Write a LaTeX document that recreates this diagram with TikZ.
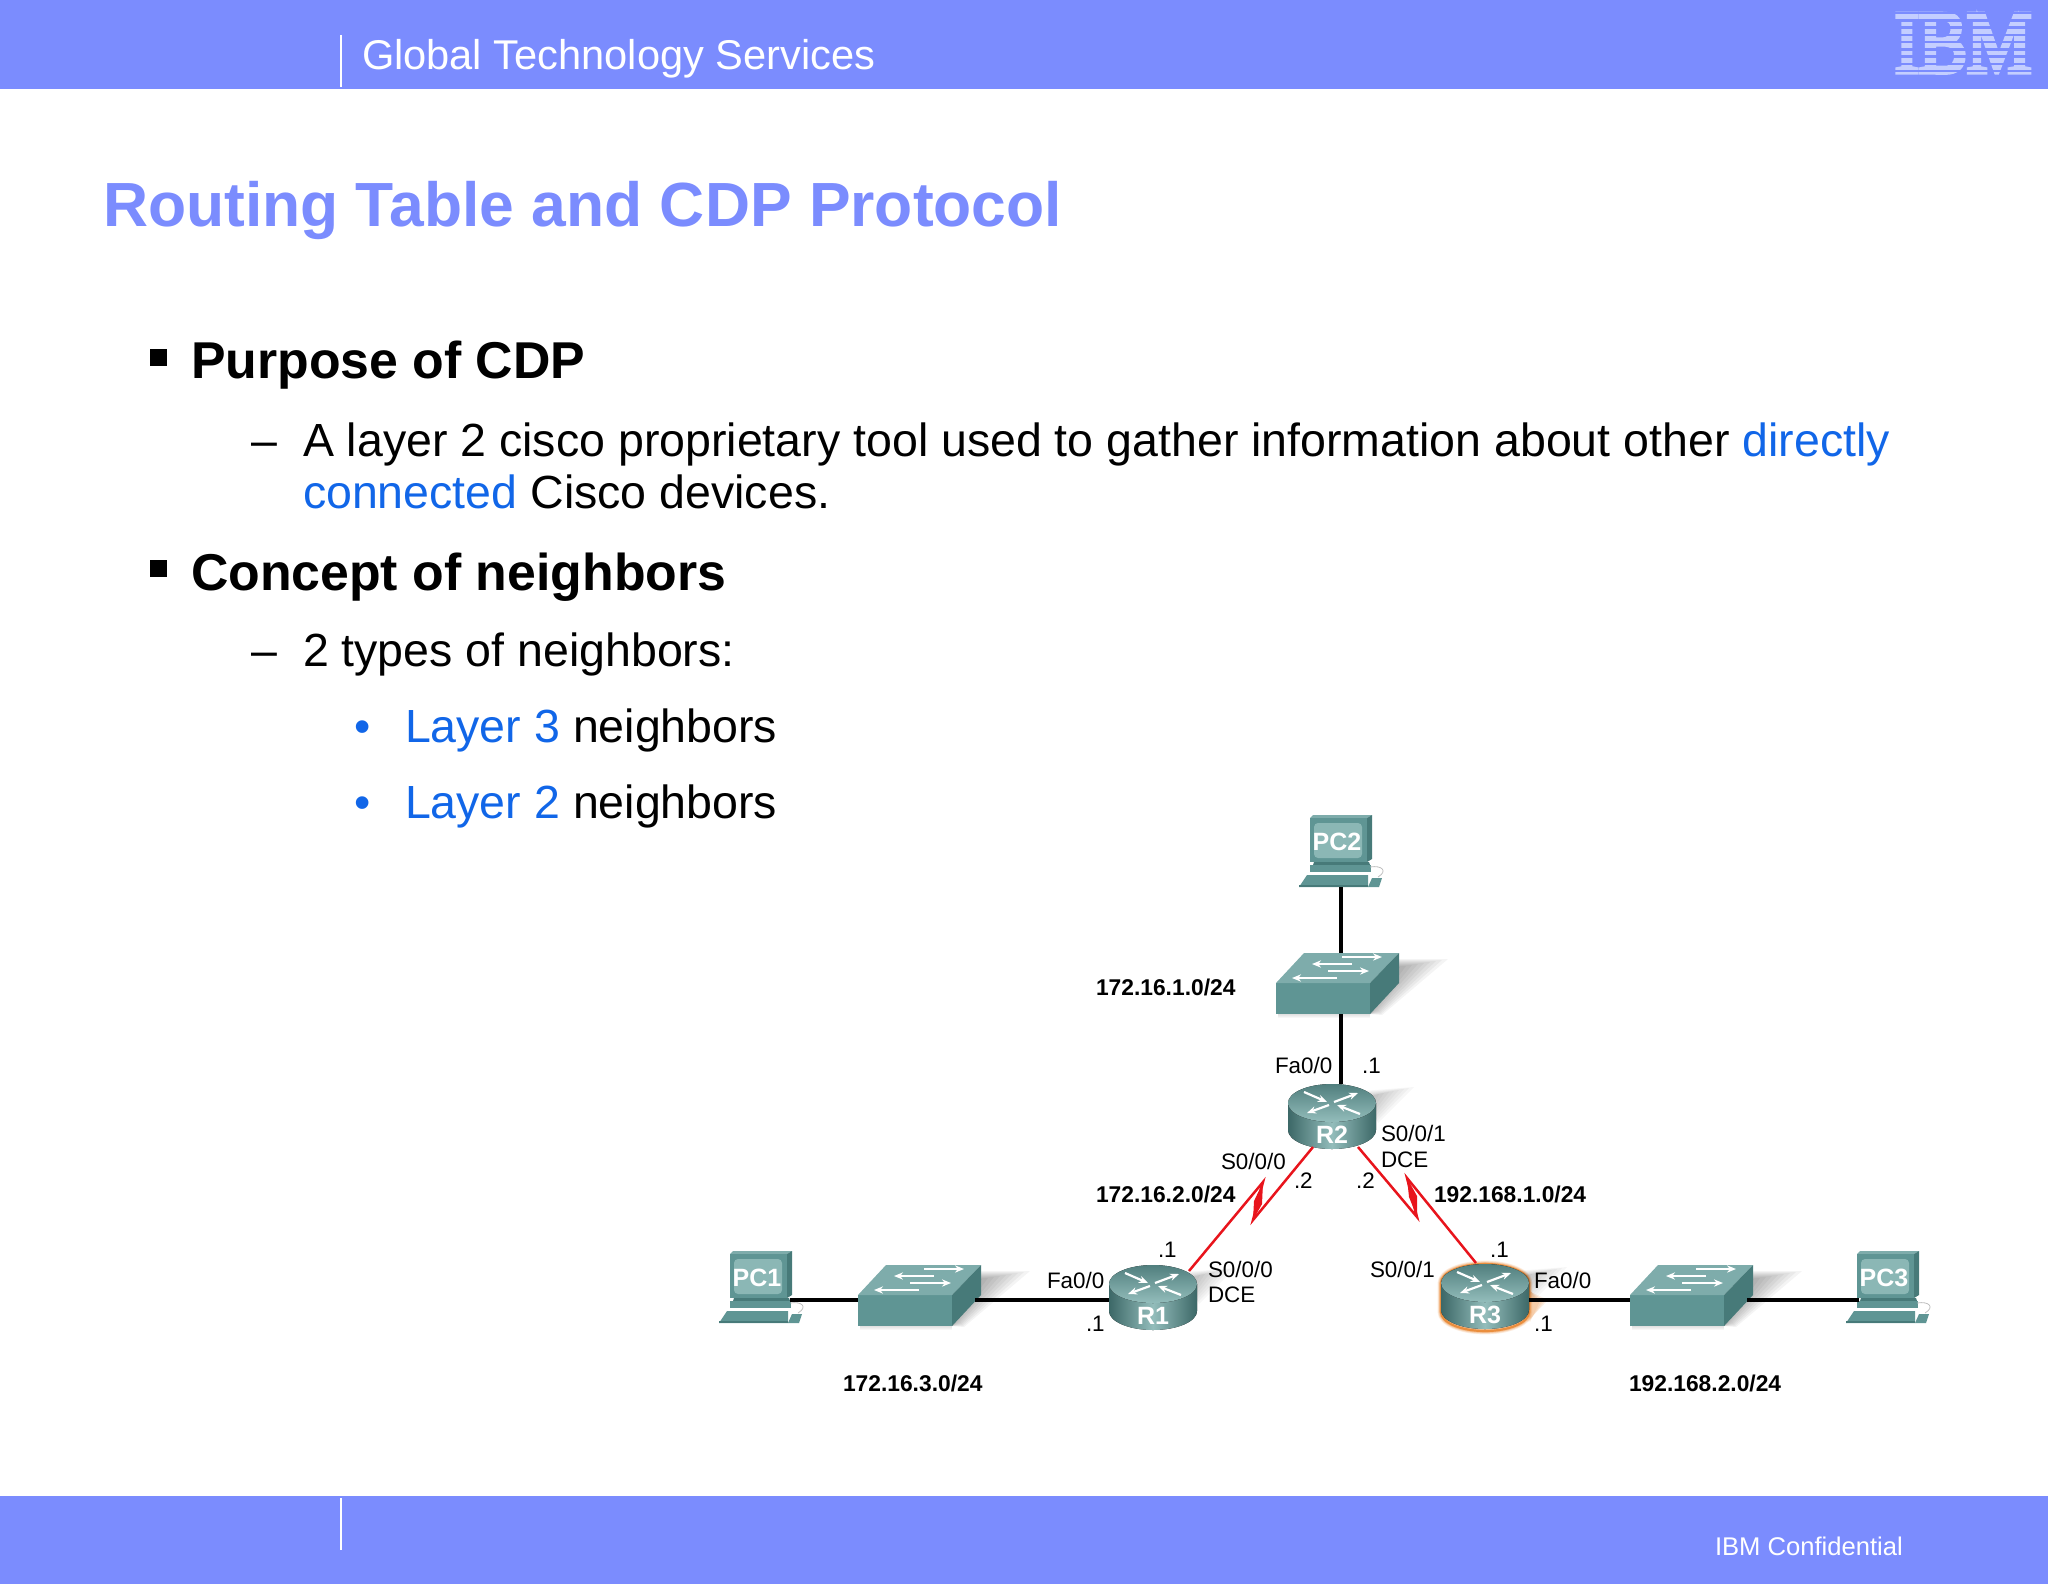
\documentclass[tikz,border=0pt]{standalone}
\usepackage{fontspec}
\usepackage{graphicx}
\setmainfont{Liberation Sans}
\newfontfamily\logofont[FakeBold=6]{Liberation Serif}
\usetikzlibrary{arrows.meta}
\definecolor{barblue}{HTML}{7B8CFE}
\definecolor{linkblue}{HTML}{1166E8}
\definecolor{logoc}{HTML}{C4CEFF}
\definecolor{tealF}{HTML}{5F9594}
\definecolor{tealT}{HTML}{7EACAB}
\definecolor{tealS}{HTML}{477A79}
\definecolor{tealL}{HTML}{93BDBB}
\definecolor{serialred}{HTML}{E8141C}
\definecolor{glowc}{HTML}{E8822A}
\newcommand{\fs}[1]{\fontsize{#1}{#1}\selectfont}
\tikzset{
  txt/.style={anchor=base west,inner sep=0pt,outer sep=0pt},
  lab/.style={txt,font=\fs{11.2}},
  labb/.style={txt,font=\fs{11.4}\bfseries},
  devlab/.style={inner sep=0pt,text=white,font=\fs{12.5}\bfseries},
  wa/.style={white,line width=1.1pt,-{Stealth[length=4.5pt,width=3.6pt]}},
  ether/.style={black,line width=1.7pt},
  serial/.style={serialred,line width=1.25pt,line join=miter},
  pics/routericon/.style={code={
    \foreach \k in {0,...,7}{\fill[black,opacity=.03] (30,{-12+\k}) -- ({82-5*\k},{-16+\k}) -- ({46-\k},{20-2*\k}) -- cycle;}
    \fill[left color=tealS!85!black,right color=tealS!85!black,middle color=tealL]
      (-44,0) -- (-44,27) arc[start angle=180,end angle=360,x radius=22pt,y radius=9.5pt] -- (44,0) -- cycle;
    \fill[top color=tealF!85!black,bottom color=tealL] (0,0) ellipse [x radius=22pt,y radius=9.5pt];
    \draw[wa] (2,-1) -- (26,-10);
    \draw[wa] (-28,-11) -- (-5,-1);
    \draw[wa] (-3,2) -- (-25,10);
    \draw[wa] (28,11) -- (5,2);
    \node[devlab] (-lbl) at (0,32) {#1};
    \coordinate (-n) at (9,-19);
    \coordinate (-w) at (-44,16);
    \coordinate (-e) at (44,17);
    \coordinate (-ne) at (36,-13);
    \coordinate (-nn) at (-9,-20);
    \coordinate (-sl) at (-19,44);
    \coordinate (-sr) at (26,44);
  }},
  pics/switchicon/.style={code={
    \foreach \k in {0,...,9}{\fill[black,opacity=.045] (110,{-24+\k}) -- ({172-6*\k},{-24+\k}) -- ({106-\k},{32-\k}) -- (94,31) -- cycle;}
    \foreach \k in {0,...,3}{\fill[black,opacity=.03] (2,31) rectangle (94,{32+\k});}
    \fill[tealF] (0,0) rectangle (94,31);
    \fill[tealT] (0,0) -- (28,-30) -- (123,-30) -- (94,0) -- cycle;
    \fill[tealS] (94,0) -- (123,-30) -- (123,0) -- (94,31) -- cycle;
    \draw[wa] (66,-26) -- (106,-26);
    \draw[wa] (76,-19) -- (36,-19);
    \draw[wa] (52,-12) -- (93,-12);
    \draw[wa] (61,-5) -- (16,-5);
    \coordinate (-n) at (65,-30);
    \coordinate (-s) at (65,31);
    \coordinate (-w) at (0,5);
    \coordinate (-e) at (117,5);
  }},
  pics/pcicon/.style={code={
    \fill[tealT] (0,3) -- (3,0) -- (62,0) -- (57,3) -- cycle;
    \fill[tealS] (57,3) -- (62,0) -- (62,44) -- (57,47) -- cycle;
    \fill[tealF] (0,3) rectangle (57,47);
    \fill[tealL!85!tealF,rounded corners=2pt] (4,8) rectangle (52,43);
    \fill[tealS] (4,47) -- (59,47) -- (60,50) -- (3,50) -- cycle;
    \fill[tealF] (0,50) -- (61,50) -- (61,57) -- (0,57) -- cycle;
    \fill[tealF] (-3,60) -- (58,60) -- (58,72) -- (-11,72) -- cycle;
    \fill[tealS] (-11,70) rectangle (58,72);
    \fill[tealF] (62,63) -- (72,63) -- (69,72) -- (58,72) -- cycle;
    \draw[black!25,line width=.4pt] (60,52) .. controls (72,50) and (78,56) .. (68,62);
    \node[devlab] (-lbl) at (27,27) {#1};
    \coordinate (-s) at (31,72);
    \coordinate (-e) at (60,49);
    \coordinate (-w) at (2,49);
  }},
}
\begin{document}
\begin{tikzpicture}[x=0.5pt,y=-0.5pt]
\useasboundingbox (0,0) rectangle (2048,1584);
% bars
\fill[barblue] (0,0) rectangle (2048,89);
\fill[barblue] (0,1496) rectangle (2048,1584);
\draw[white,line width=.8pt] (341,35) -- (341,87);
\draw[white,line width=.8pt] (341,1498) -- (341,1550);
\node[txt,text=white,font=\fs{20.8}] (head) at (362,70) {Global Technology Services};
\node[txt,text=white,font=\fs{12.8}] (conf) at (1715,1555) {IBM Confidential};
% IBM logo
\node[anchor=base,inner sep=0pt,text=logoc,font=\logofont\fs{44}] (logo) at (1963,72) {\scalebox{.82}[1]{IBM}};
\foreach \k in {0,...,8}{\fill[barblue] (1885,{13.2+7.25*\k-1.2}) rectangle (2044,{13.2+7.25*\k+1.2});}
% title
\node[txt,text=barblue,font=\fs{31.2}\bfseries] (title) at (103,226) {Routing Table and CDP Protocol};
% body
\fill[black] (150,349) rectangle (167,366);
\node[txt,font=\fs{25.9}\bfseries] (t1) at (191,378) {Purpose of CDP};
\node[txt,font=\fs{23.25}] (d1) at (251,456) {–};
\node[txt,font=\fs{23.25}] (t2) at (303,456) {A layer 2 cisco proprietary tool used to gather information about other \textcolor{linkblue}{directly}};
\node[txt,font=\fs{23.25}] (t3) at (303,508) {\textcolor{linkblue}{connected} Cisco devices.};
\fill[black] (150,560) rectangle (167,577);
\node[txt,font=\fs{25.9}\bfseries] (t4) at (191,590) {Concept of neighbors};
\node[txt,font=\fs{23.25}] (d2) at (251,666) {–};
\node[txt,font=\fs{23.25}] (t5) at (303,666) {2 types of neighbors:};
\node[txt,font=\fs{23.25},text=linkblue] (b1) at (354,742) {•};
\node[txt,font=\fs{23.25}] (t6) at (405,742) {\textcolor{linkblue}{Layer 3} neighbors};
\node[txt,font=\fs{23.25},text=linkblue] (b2) at (354,818) {•};
\node[txt,font=\fs{23.25}] (t7) at (405,818) {\textcolor{linkblue}{Layer 2} neighbors};
% devices
\pic (PC2) at (1310,815) {pcicon=PC2};
\pic (SWa) at (1276,983) {switchicon};
\pic (R2) at (1332,1103) {routericon=R2};
\pic (PC1) at (730,1251) {pcicon=PC1};
\pic (SWb) at (858,1295) {switchicon};
\pic (R1) at (1153,1284) {routericon=R1};
\foreach \w/\o in {3.4/.14,2.6/.2,1.8/.3,1.1/.8}{
\draw[glowc,line width=\w pt,opacity=\o] (1441,1283) -- (1441,1312) arc[start angle=180,end angle=360,x radius=22pt,y radius=9.5pt] -- (1529,1283) arc[start angle=0,end angle=180,x radius=22pt,y radius=9.5pt] -- cycle;}
\foreach \k in {0,...,3}{\fill[glowc,opacity=.12] ({1527+\k},1290) -- ({1548-3*\k},{1300+\k}) -- ({1527+\k},1322) -- cycle;}
\pic (R3) at (1485,1283) {routericon=R3};
\pic (SWc) at (1630,1295) {switchicon};
\pic (PC3) at (1857,1251) {pcicon=PC3};
% connectors
\coordinate (za) at (1253,1220);
\coordinate (zb) at (1263,1182);
\coordinate (zc) at (1417,1217);
\coordinate (zd) at (1407,1178);
\draw[ether] (PC2-s) -- (SWa-n);
\draw[ether] (SWa-s) -- (R2-n);
\draw[ether] (PC1-e) -- (SWb-w);
\draw[ether] (SWb-e) -- (R1-w);
\draw[ether] (R3-e) -- (SWc-w);
\draw[ether] (SWc-e) -- (PC3-w);
\draw[serial] (R2-sl) -- (za) -- (zb) -- (R1-ne);
\draw[serial] (R2-sr) -- (zc) -- (zd) -- (R3-nn);
\fill[serialred] (zb) -- (1254,1201) -- (za) -- (1262,1204) -- cycle;
\fill[serialred] (zd) -- (1409,1197) -- (zc) -- (1417,1196) -- cycle;
% labels
\node[labb] (n1) at (1096,995) {172.16.1.0/24};
\node[labb] (n2) at (1096,1202) {172.16.2.0/24};
\node[labb] (n3) at (1434,1202) {192.168.1.0/24};
\node[labb] (n4) at (843,1391) {172.16.3.0/24};
\node[labb] (n5) at (1629,1391) {192.168.2.0/24};
\node[lab] (l1) at (1275,1073) {Fa0/0};
\node[lab] (l2) at (1362,1073) {.1};
\node[lab] (l3) at (1381,1141) {S0/0/1};
\node[lab] (l4) at (1381,1167) {DCE};
\node[lab] (l5) at (1221,1169) {S0/0/0};
\node[lab] (l6) at (1294,1188) {.2};
\node[lab] (l7) at (1356,1188) {.2};
\node[lab] (l8) at (1158,1257) {.1};
\node[lab] (l9) at (1047,1288) {Fa0/0};
\node[lab] (l10) at (1086,1331) {.1};
\node[lab] (l11) at (1208,1277) {S0/0/0};
\node[lab] (l12) at (1208,1302) {DCE};
\node[lab] (l13) at (1490,1257) {.1};
\node[lab] (l14) at (1370,1277) {S0/0/1};
\node[lab] (l15) at (1534,1288) {Fa0/0};
\node[lab] (l16) at (1534,1331) {.1};
\end{tikzpicture}
\end{document}
